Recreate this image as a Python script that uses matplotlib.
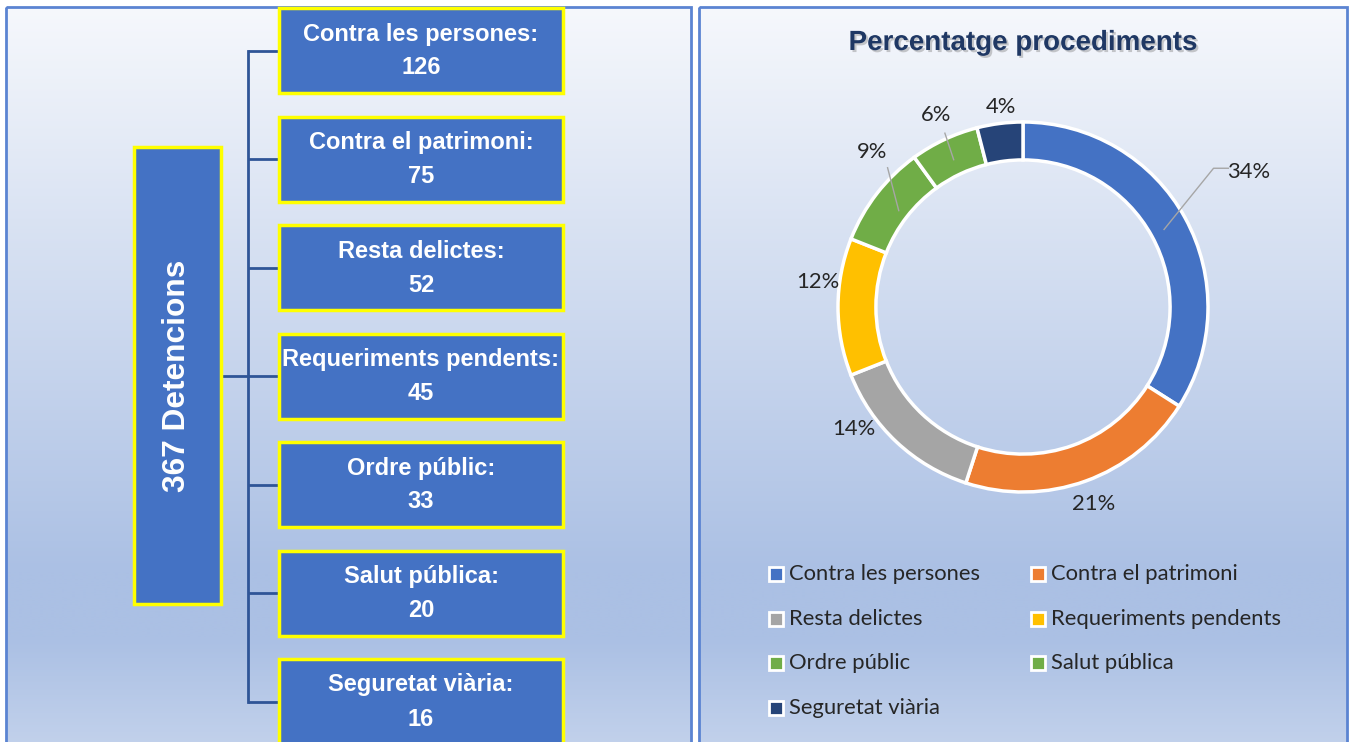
import numpy as np
import matplotlib.pyplot as plt
from matplotlib.patches import Rectangle
import matplotlib.patheffects as pe

# dades
categories = ['Contra les persones', 'Contra el patrimoni', 'Resta delictes',
              'Requeriments pendents', 'Ordre públic', 'Salut pública', 'Seguretat viària']
detentions = [126, 75, 52, 45, 33, 20, 16]
total_label = '367 Detencions'
percent = [34, 21, 14, 12, 9, 6, 4]
colors = ['#4472C4', '#ED7D31', '#A5A5A5', '#FFC000', '#70AD47', '#70AD47', '#264478']
title = 'Percentatge procediments'

W, H = 1353, 742
fig = plt.figure(figsize=(W / 100, H / 100), dpi=100)
fig.patch.set_facecolor('white')

# eixos de fons en píxels
bg = fig.add_axes([0, 0, 1, 1])
bg.axis('off')

def gradient_panel(x0, x1, y0, y1):
    stops = [0, 0.74, 0.83, 1]
    cols = np.array([[246, 248, 252], [171, 192, 228], [171, 192, 228], [199, 213, 237]]) / 255
    t = np.linspace(0, 1, 256)
    img = np.stack([np.interp(t, stops, cols[:, k]) for k in range(3)], axis=-1)[:, None, :]
    bg.imshow(img, extent=(x0, x1, y1, y0), aspect='auto', zorder=0, interpolation='bilinear')
    bg.add_patch(Rectangle((x0, y0), x1 - x0, y1 - y0, fill=False, ec='#5B84D2', lw=2, zorder=1))

gradient_panel(6, 691, 7, 770)
gradient_panel(699, 1347, 7, 770)
bg.set_xlim(0, W)
bg.set_ylim(H, 0)

# arbre de detencions
line_col = '#2F5597'
box_x, box_w, box_h = 279, 284, 85
pitch = 108.5
top0 = 8
centers = []
for i, (cat, val) in enumerate(zip(categories, detentions)):
    top = top0 + i * pitch
    cy = top + box_h / 2
    centers.append(cy)
    bg.add_patch(Rectangle((box_x, top), box_w, box_h, fc='#4472C4', ec='#FFFF00', lw=2.5, zorder=3))
    bg.text(box_x + box_w / 2, top + 26, cat + ':', color='white', fontsize=17, fontweight='bold',
            family='Liberation Sans', ha='center', va='center', zorder=4)
    bg.text(box_x + box_w / 2, top + 60, str(val), color='white', fontsize=17, fontweight='bold',
            family='Liberation Sans', ha='center', va='center', zorder=4)
    bg.plot([248, box_x], [cy, cy], color=line_col, lw=2, zorder=2, solid_capstyle='butt')

bg.plot([248, 248], [centers[0], centers[-1]], color=line_col, lw=2, zorder=2)
main_cy = (centers[0] + centers[-1]) / 2
bg.plot([221, 248], [main_cy, main_cy], color=line_col, lw=2, zorder=2)
bg.add_patch(Rectangle((134, 147), 87, 457, fc='#4472C4', ec='#FFFF00', lw=2.5, zorder=3))
bg.text(177, main_cy, total_label, rotation=90, color='white', fontsize=22.8, fontweight='bold',
        family='Liberation Sans', ha='center', va='center', zorder=4)

# títol
bg.text(1023, 43, title, color='#1F3864', fontsize=20, fontweight='bold', family='Liberation Sans',
        ha='center', va='center', zorder=4,
        path_effects=[pe.withSimplePatchShadow(offset=(1.5, -1.5), shadow_rgbFace='#7F7F7F', alpha=0.4)])

# donut
cx, cy, R, half = 1023, 307, 185, 250
ax = fig.add_axes([(cx - half) / W, (H - cy - half) / H, 2 * half / W, 2 * half / H])
ax.axis('off')
wedges, _ = ax.pie(percent, colors=colors, startangle=90, counterclock=False, radius=1,
                   wedgeprops=dict(width=0.205, edgecolor='white', linewidth=2.5))
lim = half / R
ax.set_xlim(-lim, lim)
ax.set_ylim(-lim, lim)

label_font = 'Lato'
label_size = 15.8
label_dist = [1.42, 1.13, 1.13, 1.12, 1.17, 1.14, 1.09]
label_nudge = [2, 0, -11, -7, -8, -1, -1]
leaders = {0: (0.87, 1.30), 4: (0.85, 1.05), 5: (0.88, 1.03)}
for i, w in enumerate(wedges):
    mid = (w.theta1 + w.theta2) / 2
    a = np.deg2rad(mid + label_nudge[i])
    tx, ty = label_dist[i] * np.cos(a), label_dist[i] * np.sin(a)
    ax.text(tx, ty, f'{percent[i]}%', fontsize=label_size, family=label_font, color='#262626',
            ha='center', va='center')
    if i in leaders:
        r0, r1 = leaders[i]
        am = np.deg2rad(mid)
        x0, y0 = r0 * np.cos(am), r0 * np.sin(am)
        if i == 0:
            xs = [x0, 1.03, 1.11]
            ys = [y0, 0.75, 0.75]
        else:
            x1, y1 = r1 * np.cos(a), r1 * np.sin(a)
            xs, ys = [x0, x1], [y0, y1]
        ax.plot(xs, ys, color='#A6A6A6', lw=1)

# llegenda
leg_x = [776, 1038]
leg_y0, leg_dy = 574, 44.7
for i, (cat, c) in enumerate(zip(categories, colors)):
    row, col = divmod(i, 2)
    x, y = leg_x[col], leg_y0 + row * leg_dy
    bg.add_patch(Rectangle((x - 7, y - 7), 14, 14, fc=c, ec='white', lw=2, zorder=4))
    bg.text(x + 13, y, cat, fontsize=label_size, family=label_font, color='#262626',
            ha='left', va='center', zorder=4)

fig.savefig('out.png', dpi=100)
